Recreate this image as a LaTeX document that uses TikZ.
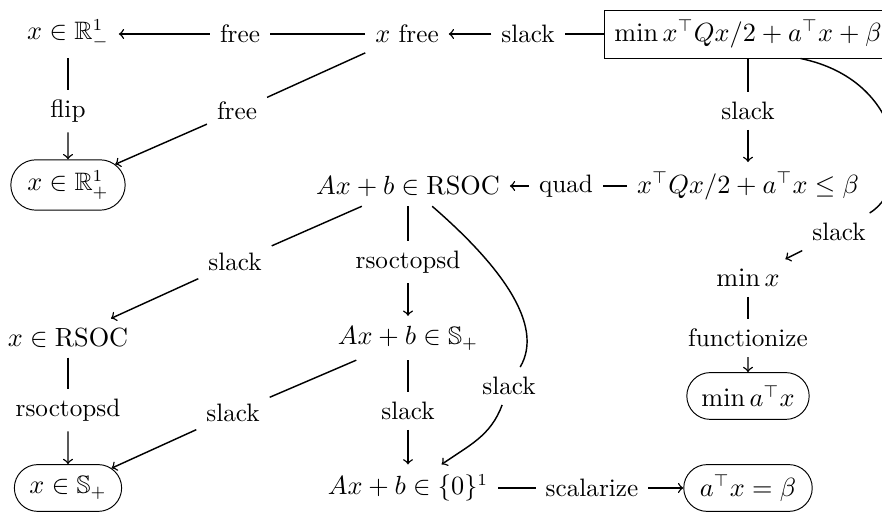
\documentclass[tikz,border=0pt]{standalone}
\usepackage{amsmath}
\usepackage{amssymb}
\usetikzlibrary{shapes.misc}

\begin{document}
\begin{tikzpicture}[
    x=0.4167pt, y=-0.4167pt,
    font=\fontsize{10.5}{12}\selectfont,
    lbl/.style={inner sep=4pt},
    set/.style={inner sep=4pt},
    term/.style={draw, rounded rectangle, minimum height=19.5pt, inner xsep=5pt},
    obj/.style={draw, minimum width=120pt, minimum height=20pt},
    ln/.style={semithick},
    arr/.style={->, semithick}
  ]
  \useasboundingbox (0,0) rectangle (882,514);
  % sets and objectives
  \node[set]  (neg)   at (68,34)   {$x \in \mathbb{R}^1_-$};
  \node[set]  (xfree) at (407,34)  {$x$ free};
  \node[obj]  (qobj)  at (748,34)  {$\min x^\top Qx/2 + a^\top x + \beta$};
  \node[term, minimum height=21pt] (pos) at (68,185) {$x \in \mathbb{R}^1_+$};
  \node[set]  (rsoc)  at (408,186) {$Ax + b \in \mathrm{RSOC}$};
  \node[set]  (qcon)  at (748,186) {$x^\top Qx/2 + a^\top x \le \beta$};
  \node[set]  (minx)  at (748,278) {$\min x$};
  \node[set]  (xrsoc) at (68,338)  {$x \in \mathrm{RSOC}$};
  \node[set]  (psd)   at (408,338) {$Ax + b \in \mathbb{S}_+$};
  \node[term] (lin)   at (748,396) {$\min a^\top x$};
  \node[term] (xpsd)  at (68,488)  {$x \in \mathbb{S}_+$};
  \node[set]  (zero)  at (408,488) {$Ax + b \in \{0\}^1$};
  \node[term] (eq)    at (748,488) {$a^\top x = \beta$};
  % bridge labels
  \node[lbl] (lfree1) at (240,34)  {free};
  \node[lbl] (lslk1)  at (528,34)  {slack};
  \node[lbl] (lflip)  at (68,111)  {flip};
  \node[lbl] (lfree2) at (237,111) {free};
  \node[lbl] (lslk2)  at (748,111) {slack};
  \node[lbl] (lquad)  at (566,186) {quad};
  \node[lbl] (lslk3)  at (839,232) {slack};
  \node[lbl] (lslk4)  at (235,262) {slack};
  \node[lbl] (lrp1)   at (408,262) {rsoctopsd};
  \node[lbl] (lfun)   at (748,338) {functionize};
  \node[lbl] (lrp2)   at (68,410)  {rsoctopsd};
  \node[lbl] (lslk5)  at (233,413) {slack};
  \node[lbl] (lslk6)  at (408,411) {slack};
  \node[lbl] (lslk7)  at (509,386) {slack};
  \node[lbl] (lscal)  at (592,488) {scalarize};
  % bridges
  \draw[ln] (xfree) -- (lfree1);
  \draw[arr] (lfree1) -- (neg);
  \draw[ln] (qobj) -- (lslk1);
  \draw[arr] (lslk1) -- (xfree);
  \draw[ln] (neg) -- (lflip);
  \draw[arr] (lflip) -- (pos);
  \draw[ln] (xfree) -- (lfree2);
  \draw[arr] (lfree2) -- (pos);
  \draw[ln] (qobj) -- (lslk2);
  \draw[arr] (lslk2) -- (qcon);
  \draw[ln] (qobj.-25) .. controls (905,80) and (915,185) .. (lslk3);
  \draw[arr] (lslk3) -- (minx);
  \draw[ln] (qcon) -- (lquad);
  \draw[arr] (lquad) -- (rsoc);
  \draw[ln] (rsoc) -- (lslk4);
  \draw[arr] (lslk4) -- (xrsoc);
  \draw[ln] (rsoc) -- (lrp1);
  \draw[arr] (lrp1) -- (psd);
  \draw[ln] (rsoc.-40) .. controls (500,265) and (545,325) .. (lslk7);
  \draw[arr] (lslk7) to[out=-110, in=35] (zero);
  \draw[ln] (minx) -- (lfun);
  \draw[arr] (lfun) -- (lin);
  \draw[ln] (xrsoc) -- (lrp2);
  \draw[arr] (lrp2) -- (xpsd);
  \draw[ln] (psd) -- (lslk5);
  \draw[arr] (lslk5) -- (xpsd);
  \draw[ln] (psd) -- (lslk6);
  \draw[arr] (lslk6) -- (zero);
  \draw[ln] (zero) -- (lscal);
  \draw[arr] (lscal) -- (eq);
\end{tikzpicture}
\end{document}
